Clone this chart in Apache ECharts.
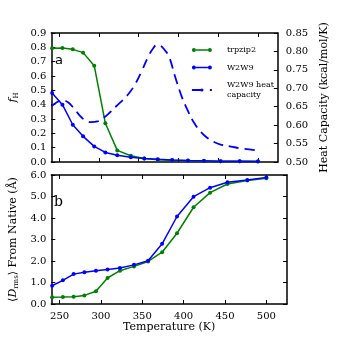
<!DOCTYPE html>
<html>
<head>
<meta charset="utf-8">
<script src="https://cdn.jsdelivr.net/npm/echarts@6/dist/echarts.min.js"></script>
<style>
  html, body { margin: 0; padding: 0; background: #fff; }
  #chart { width: 338px; height: 338px; }
</style>
</head>
<body>
<div id="chart"></div>
<script>
// replica temperatures (K)
const temps = [241, 254, 267, 280, 294, 308, 323, 340, 357, 374, 392, 412, 432, 453, 477, 500]

// panel a: folded fraction
const fhTrpzip = [0.793, 0.795, 0.786, 0.763, 0.672, 0.270, 0.081, 0.044, 0.024, 0.016, 0.012, 0.009, 0.007, 0.006, 0.006, 0.005]
const fhW2w9 = [0.481, 0.400, 0.260, 0.179, 0.109, 0.067, 0.047, 0.033, 0.025, 0.019, 0.014, 0.010, 0.008, 0.006, 0.005, 0.004]

// heat capacity curve (right axis)
const cvTemps = [240, 247, 254, 261, 268, 275, 282, 290, 298, 306, 314, 322, 330, 338, 346, 354, 362, 368, 373, 378, 383, 388, 396, 404, 412, 420, 428, 436, 444, 452, 466, 481, 500]
const cvValues = [0.651, 0.662, 0.668, 0.662, 0.647, 0.628, 0.614, 0.608, 0.610, 0.620, 0.635, 0.652, 0.668, 0.687, 0.713, 0.748, 0.786, 0.808, 0.818, 0.815, 0.803, 0.787, 0.730, 0.678, 0.638, 0.605, 0.582, 0.566, 0.555, 0.548, 0.542, 0.536, 0.531]

// panel b: RMSD from native
const rmsdTrpzip = [0.31, 0.32, 0.34, 0.40, 0.59, 1.21, 1.55, 1.75, 1.98, 2.41, 3.29, 4.50, 5.18, 5.58, 5.74, 5.85]
const rmsdW2w9 = [0.85, 1.10, 1.39, 1.48, 1.55, 1.61, 1.67, 1.82, 2.01, 2.80, 4.07, 4.99, 5.41, 5.66, 5.77, 5.88]

// tick labels
const xTicks = [250, 300, 350, 400, 450, 500]

const green = '#008000'
const blue = '#0000ff'
const font = 'DejaVu Serif'

const zip = (xs, ys) => xs.map((x, i) => [x, ys[i]])

const axisLine = { show: true, onZero: false, lineStyle: { color: '#000', width: 1.5 } }
const tick = { show: true, inside: true, length: 4, lineStyle: { color: '#000', width: 1 } }

function xAxis(grid, pos, labels) {
  return {
    type: 'value', gridIndex: grid, position: pos, min: 240, max: 525,
    axisLine: axisLine,
    axisTick: Object.assign({ customValues: xTicks }, tick),
    axisLabel: { show: labels, customValues: xTicks, margin: 7, fontSize: 10, fontFamily: font, color: '#000' },
    splitLine: { show: false },
    name: labels ? 'Temperature (K)' : '', nameLocation: 'middle', nameGap: 18,
    nameTextStyle: { fontSize: 11, fontFamily: font, color: '#000' }
  }
}

// line with a marker at each end, no overlap so the fill stays solid
const dotLine = 'path://M4,1.25H16V2.75H4Z M0,2A2,2,0,1,1,4,2A2,2,0,1,1,0,2Z M16,2A2,2,0,1,1,20,2A2,2,0,1,1,16,2Z'

const myEcharts = echarts.init(document.getElementById('chart'))
myEcharts.setOption({
  animation: false,
  grid: [
    { left: 42, right: 51, top: 33, height: 129 },
    { left: 42, right: 51, top: 175, height: 129 }
  ],
  xAxis: [
    xAxis(0, 'bottom', false),
    xAxis(0, 'top', false),
    xAxis(1, 'bottom', true),
    xAxis(1, 'top', false)
  ],
  yAxis: [
    {
      type: 'value', gridIndex: 0, position: 'left', min: 0, max: 0.9, interval: 0.1,
      axisLine: axisLine, axisTick: tick, splitLine: { show: false },
      axisLabel: { margin: 5, fontSize: 10, fontFamily: font, color: '#000', formatter: v => v.toFixed(1) },
      name: '{f|f}{h|H}', nameLocation: 'middle', nameGap: 24,
      nameTextStyle: {
        rich: {
          f: { fontSize: 11, fontStyle: 'italic', fontFamily: font, color: '#000' },
          h: { fontSize: 7, fontFamily: font, color: '#000', padding: [5, 0, 0, 0] }
        }
      }
    },
    {
      type: 'value', gridIndex: 0, position: 'right', min: 0.5, max: 0.85, interval: 0.05,
      axisLine: axisLine, axisTick: tick, splitLine: { show: false },
      axisLabel: { margin: 8, fontSize: 10, fontFamily: font, color: '#000', formatter: v => v.toFixed(2) },
      name: 'Heat Capacity (kcal/mol/K)', nameLocation: 'middle', nameGap: 41, nameRotate: 90,
      nameTextStyle: { fontSize: 11, fontFamily: font, color: '#000' }
    },
    {
      type: 'value', gridIndex: 1, position: 'left', min: 0, max: 6, interval: 1,
      axisLine: axisLine, axisTick: tick, splitLine: { show: false },
      axisLabel: { margin: 5, fontSize: 10, fontFamily: font, color: '#000', formatter: v => v.toFixed(1) },
      name: '{t|⟨}{d|D}{s|rms}{t|⟩ From Native (Å)}', nameLocation: 'middle', nameGap: 22,
      nameTextStyle: {
        rich: {
          t: { fontSize: 11, fontFamily: font, color: '#000' },
          d: { fontSize: 11, fontStyle: 'italic', fontFamily: font, color: '#000' },
          s: { fontSize: 7, fontFamily: font, color: '#000', padding: [5, 0, 0, 0] }
        }
      }
    },
    {
      type: 'value', gridIndex: 1, position: 'right', min: 0, max: 6, interval: 1,
      axisLine: axisLine, axisTick: tick, splitLine: { show: false },
      axisLabel: { show: false }
    }
  ],
  legend: {
    orient: 'vertical', left: 191, top: 45, padding: 0, itemGap: 7.5,
    itemWidth: 20, itemHeight: 4,
    textStyle: { fontSize: 8, fontFamily: font, color: '#000', lineHeight: 10, padding: [0, 0, 0, 10] },
    data: [
      { name: 'trpzip2', icon: dotLine, itemStyle: { color: green, borderWidth: 0 } },
      { name: 'W2W9', icon: dotLine, itemStyle: { color: blue, borderWidth: 0 } },
      { name: 'W2W9 heat\ncapacity', lineStyle: { color: blue, width: 1.8, type: [11, 7] } }
    ]
  },
  graphic: [
    { type: 'text', left: 55, top: 54, style: { text: 'a', fontSize: 13, fontFamily: 'DejaVu Sans', fill: '#000' } },
    { type: 'text', left: 54, top: 195, style: { text: 'b', fontSize: 14, fontFamily: font, fill: '#000' } }
  ],
  series: [
    {
      name: 'trpzip2', type: 'line', xAxisIndex: 0, yAxisIndex: 0,
      data: zip(temps, fhTrpzip), symbol: 'circle', symbolSize: 4,
      itemStyle: { color: green }, lineStyle: { color: green, width: 1.5 }
    },
    {
      name: 'W2W9', type: 'line', xAxisIndex: 0, yAxisIndex: 0,
      data: zip(temps, fhW2w9), symbol: 'circle', symbolSize: 4,
      itemStyle: { color: blue }, lineStyle: { color: blue, width: 1.5 }
    },
    {
      name: 'W2W9 heat\ncapacity', type: 'line', xAxisIndex: 0, yAxisIndex: 1,
      data: zip(cvTemps, cvValues), symbol: 'none', smooth: 0.4,
      itemStyle: { color: blue }, lineStyle: { color: blue, width: 1.8, type: [10, 6] }
    },
    {
      name: 'trpzip2', type: 'line', xAxisIndex: 2, yAxisIndex: 2,
      data: zip(temps, rmsdTrpzip), symbol: 'circle', symbolSize: 4,
      itemStyle: { color: green }, lineStyle: { color: green, width: 1.5 }
    },
    {
      name: 'W2W9', type: 'line', xAxisIndex: 2, yAxisIndex: 2,
      data: zip(temps, rmsdW2w9), symbol: 'circle', symbolSize: 4,
      itemStyle: { color: blue }, lineStyle: { color: blue, width: 1.5 }
    }
  ]
})
</script>
</body>
</html>
